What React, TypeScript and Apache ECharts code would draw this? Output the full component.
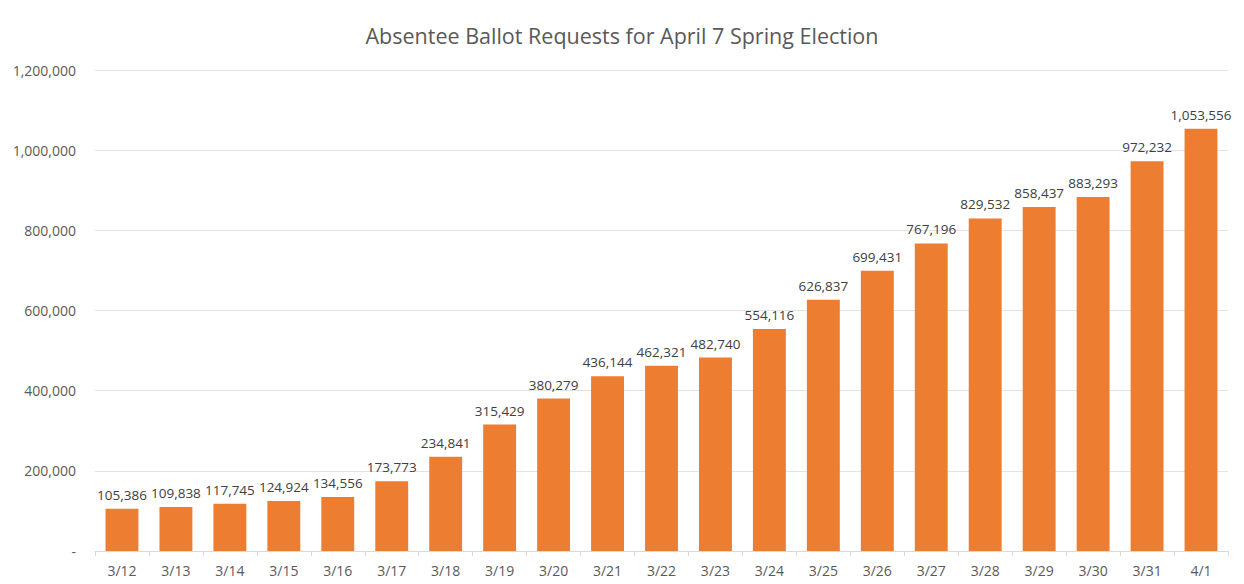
import React, { useEffect, useRef } from "react";
import * as echarts from "echarts";

const categories = ["3/12","3/13","3/14","3/15","3/16","3/17","3/18","3/19","3/20","3/21","3/22","3/23","3/24","3/25","3/26","3/27","3/28","3/29","3/30","3/31","4/1"];
const requests = [105386,109838,117745,124924,134556,173773,234841,315429,380279,436144,462321,482740,554116,626837,699431,767196,829532,858437,883293,972232,1053556];
const chartTitle = "Absentee Ballot Requests for April 7 Spring Election";

const fmt = (v: number) => v.toString().replace(/\B(?=(\d{3})+(?!\d))/g, ",");

export default function App() {
  const ref = useRef<HTMLDivElement>(null);
  useEffect(() => {
    const chart = echarts.init(ref.current!, null, { renderer: "svg" });
    chart.setOption({
      animation: false,
      textStyle: { fontFamily: "'Open Sans', 'Noto Sans', sans-serif" },
      title: {
        text: chartTitle,
        left: "center",
        top: 19,
        textStyle: { fontSize: 21.5, fontWeight: "normal", color: "#595959", fontFamily: "'Open Sans', sans-serif" },
      },
      grid: { left: 95, right: 16, top: 70, bottom: 33, containLabel: false },
      xAxis: {
        type: "category",
        data: categories,
        axisLine: { lineStyle: { color: "#d9d9d9" } },
        axisTick: { show: true, alignWithLabel: false, length: 5, lineStyle: { color: "#d9d9d9" } },
        axisLabel: { color: "#595959", fontSize: 14, margin: 12 },
      },
      yAxis: {
        type: "value",
        min: 0,
        max: 1200000,
        interval: 200000,
        axisLine: { show: false },
        axisTick: { show: false },
        splitLine: { lineStyle: { color: "#e3e3e3" } },
        axisLabel: {
          color: "#595959",
          fontSize: 14,
          margin: 19,
          formatter: (v: number) => (v === 0 ? "-" : fmt(v)),
        },
      },
      series: [
        {
          type: "bar",
          data: requests,
          barWidth: "61%",
          itemStyle: { color: "#ed7d31" },
          label: {
            show: true,
            position: "top",
            distance: 7,
            color: "#404040",
            fontSize: 13.5,
            formatter: (p: any) => fmt(p.value),
          },
        },
      ],
    });
    return () => chart.dispose();
  }, []);
  return <div ref={ref} style={{ width: 1244, height: 584, position: "absolute", left: 0, top: 0 }} />;
}
